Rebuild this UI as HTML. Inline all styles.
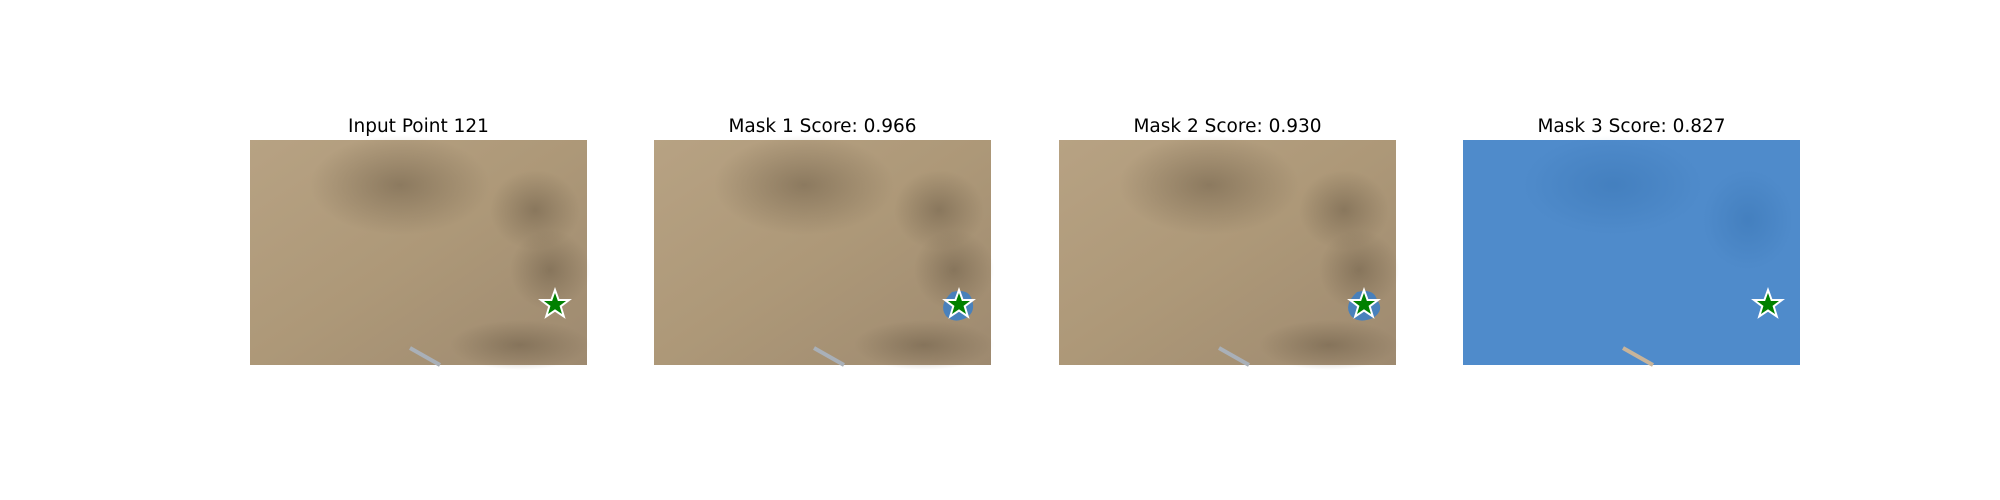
<!DOCTYPE html>
<html><head><meta charset="utf-8"><style>
body{margin:0;background:#fff;width:2000px;height:500px;overflow:hidden}
svg{display:block}
text{font-family:"DejaVu Sans","Liberation Sans",sans-serif;font-size:18.5px;fill:#000}
</style></head><body>
<svg width="2000" height="500">
<defs>
<radialGradient id="dark1" cx="0.5" cy="0.5" r="0.5"><stop offset="0" stop-color="#6e5e48" stop-opacity="0.55"/><stop offset="1" stop-color="#6e5e48" stop-opacity="0"/></radialGradient>
<radialGradient id="dark2" cx="0.5" cy="0.5" r="0.5"><stop offset="0" stop-color="#2f6aa8" stop-opacity="0.35"/><stop offset="1" stop-color="#2f6aa8" stop-opacity="0"/></radialGradient>
<linearGradient id="ground" x1="0" y1="0" x2="1" y2="1"><stop offset="0" stop-color="#b7a283"/><stop offset="0.5" stop-color="#ad9878"/><stop offset="1" stop-color="#9e8a70"/></linearGradient>
<g id="terrain">
<rect width="337" height="225" fill="url(#ground)"/>
<ellipse cx="150" cy="45" rx="90" ry="50" fill="url(#dark1)"/>
<ellipse cx="285" cy="70" rx="45" ry="40" fill="url(#dark1)"/>
<ellipse cx="300" cy="130" rx="40" ry="40" fill="url(#dark1)"/>
<ellipse cx="270" cy="205" rx="70" ry="25" fill="url(#dark1)"/>
<line x1="160" y1="208" x2="190" y2="225" stroke="#a9b0b8" stroke-width="4"/>
</g>
</defs>
<script>
const titles=["Input Point 121","Mask 1 Score: 0.966","Mask 2 Score: 0.930","Mask 3 Score: 0.827"];
</script>
<g transform="translate(250,140)">
<use href="#terrain"/>
<text x="168.5" y="-8" text-anchor="middle">Input Point 121</text>
<polygon points="305,150 308.6,160 319,160 310.7,166.3 313.8,176.5 305,170.5 296.2,176.5 299.3,166.3 291,160 301.4,160" fill="#008000" stroke="#fff" stroke-width="2"/>
</g>
<g transform="translate(654,140)">
<use href="#terrain"/>
<text x="168.5" y="-8" text-anchor="middle">Mask 1 Score: 0.966</text>
<path d="M298,152 Q315,148 318,160 Q322,172 312,178 Q300,184 292,176 Q284,165 298,152Z" fill="#3f7fc4" opacity="0.9"/>
<polygon points="305,150 308.6,160 319,160 310.7,166.3 313.8,176.5 305,170.5 296.2,176.5 299.3,166.3 291,160 301.4,160" fill="#008000" stroke="#fff" stroke-width="2"/>
</g>
<g transform="translate(1059,140)">
<use href="#terrain"/>
<text x="168.5" y="-8" text-anchor="middle">Mask 2 Score: 0.930</text>
<path d="M298,152 Q315,148 318,160 Q326,170 314,178 Q300,184 292,176 Q284,165 298,152Z" fill="#3f7fc4" opacity="0.9"/>
<polygon points="305,150 308.6,160 319,160 310.7,166.3 313.8,176.5 305,170.5 296.2,176.5 299.3,166.3 291,160 301.4,160" fill="#008000" stroke="#fff" stroke-width="2"/>
</g>
<g transform="translate(1463,140)">
<rect width="337" height="225" fill="#4f8bcb"/>
<ellipse cx="150" cy="45" rx="90" ry="50" fill="url(#dark2)"/>
<ellipse cx="285" cy="80" rx="45" ry="50" fill="url(#dark2)"/>
<line x1="160" y1="208" x2="190" y2="225" stroke="#c8b49a" stroke-width="4"/>
<text x="168.5" y="-8" text-anchor="middle">Mask 3 Score: 0.827</text>
<polygon points="305,150 308.6,160 319,160 310.7,166.3 313.8,176.5 305,170.5 296.2,176.5 299.3,166.3 291,160 301.4,160" fill="#008000" stroke="#fff" stroke-width="2"/>
</g>
</svg>
</body></html>
